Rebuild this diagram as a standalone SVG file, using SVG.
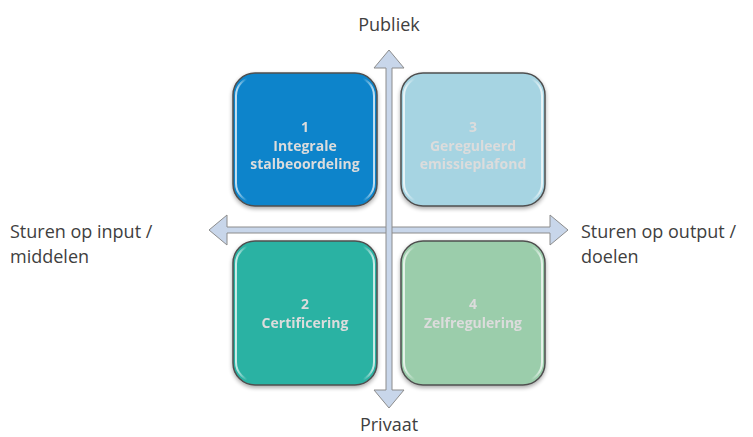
<svg xmlns="http://www.w3.org/2000/svg" width="753" height="437" viewBox="0 0 753 437">
  <defs>
    <linearGradient id="gloss" x1="0" y1="0" x2="1" y2="0">
      <stop offset="0" stop-color="#ffffff" stop-opacity="0.75"/>
      <stop offset="0.08" stop-color="#ffffff" stop-opacity="0"/>
      <stop offset="0.92" stop-color="#ffffff" stop-opacity="0"/>
      <stop offset="1" stop-color="#ffffff" stop-opacity="0.75"/>
    </linearGradient>
    <filter id="shadow" x="-10%" y="-10%" width="120%" height="125%">
      <feGaussianBlur in="SourceAlpha" stdDeviation="2"/>
      <feOffset dx="0" dy="2" result="b"/>
      <feComponentTransfer><feFuncA type="linear" slope="0.35"/></feComponentTransfer>
      <feMerge><feMergeNode/><feMergeNode in="SourceGraphic"/></feMerge>
    </filter>
  </defs>
  <style>
    .box { stroke: #4f4f4f; stroke-width: 1.5; }
    .gl { fill: none; stroke: url(#gloss); stroke-width: 2; }
    .lbl { font-family: "Open Sans", "Noto Sans", sans-serif; font-weight: bold; font-size: 14px; fill: #dcdcdc; text-anchor: middle; }
    .axis { font-family: "Open Sans", "Noto Sans", sans-serif; font-size: 18px; fill: #404040; }
    .arrow { fill: #c8d6ea; stroke: #8c8c8c; stroke-width: 1; }
  </style>

  <g id="connectors">
    <path class="arrow" d="M209,230 L227,215 L227,227 L550,227 L550,215 L568,230 L550,245 L550,233 L227,233 L227,245 Z"/>
    <path class="arrow" d="M389,50 L404,68 L392,68 L392,390 L404,390 L389,408 L374,390 L386,390 L386,68 L374,68 Z"/>
  </g>

  <g id="node1" filter="url(#shadow)">
    <rect class="box" x="233" y="73" width="144" height="133" rx="22" fill="#0a84cb"/>
    <rect class="gl" x="236" y="77" width="138" height="125" rx="19"/>
    <text class="lbl" x="305" y="132">1</text>
    <text class="lbl" x="305" y="151">Integrale</text>
    <text class="lbl" x="305" y="169">stalbeoordeling</text>
  </g>

  <g id="node3" filter="url(#shadow)">
    <rect class="box" x="401" y="73" width="144" height="133" rx="22" fill="#a6d4e2"/>
    <rect class="gl" x="404" y="77" width="138" height="125" rx="19"/>
    <text class="lbl" x="473" y="132">3</text>
    <text class="lbl" x="473" y="151">Gereguleerd</text>
    <text class="lbl" x="473" y="169">emissieplafond</text>
  </g>

  <g id="node2" filter="url(#shadow)">
    <rect class="box" x="233" y="241" width="144" height="144" rx="22" fill="#2ab2a3"/>
    <rect class="gl" x="236" y="245" width="138" height="136" rx="19"/>
    <text class="lbl" x="305" y="309">2</text>
    <text class="lbl" x="305" y="328">Certificering</text>
  </g>

  <g id="node4" filter="url(#shadow)">
    <rect class="box" x="401" y="241" width="144" height="144" rx="22" fill="#9bcdab"/>
    <rect class="gl" x="404" y="245" width="138" height="136" rx="19"/>
    <text class="lbl" x="473" y="309">4</text>
    <text class="lbl" x="473" y="328">Zelfregulering</text>
  </g>

  <g id="axis-labels">
    <text class="axis" x="389" y="31" text-anchor="middle">Publiek</text>
    <text class="axis" x="389" y="431" text-anchor="middle">Privaat</text>
    <text class="axis" x="10" y="238">Sturen op input /</text>
    <text class="axis" x="10" y="263">middelen</text>
    <text class="axis" x="581" y="238">Sturen op output /</text>
    <text class="axis" x="581" y="263">doelen</text>
  </g>
</svg>
